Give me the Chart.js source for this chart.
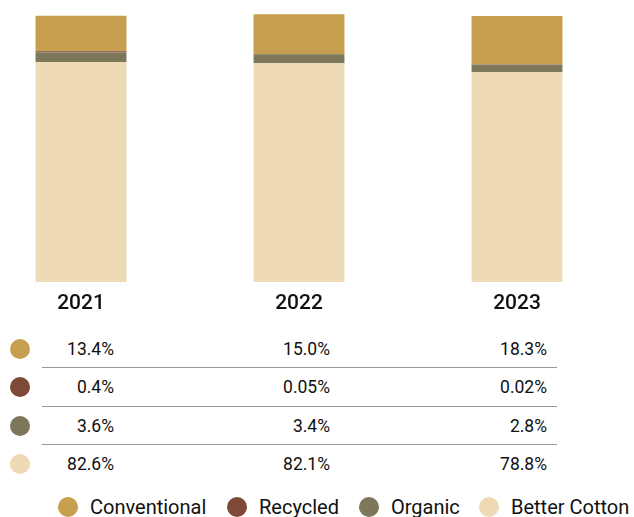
<!DOCTYPE html>
<html>
<head>
<meta charset="utf-8">
<script src="https://cdn.jsdelivr.net/npm/chart.js@4"></script>
<style>
  html, body { margin: 0; padding: 0; background: #fff; overflow: hidden; }
  body { width: 634px; height: 517px; position: relative; font-family: Roboto, "DejaVu Sans", sans-serif; color: #111; }
  #chartBox { position: absolute; left: -28px; top: 0; width: 654px; height: 320px; }
  .dot { position: absolute; width: 20px; height: 20px; border-radius: 50%; }
  .val { position: absolute; font-size: 17.5px; font-weight: 400; text-align: right; width: 80px; line-height: 20px; }
  .rule { position: absolute; left: 42px; width: 515px; height: 0; border-top: 1.5px solid #9a9a9a; }
  .leg { position: absolute; font-size: 20px; line-height: 22px; white-space: nowrap; }
</style>
</head>
<body>
<div id="chartBox"><canvas id="shareChart"></canvas></div>
<div id="table"></div>
<div id="legend"></div>
<script>
// Доли хлопка по годам, %
const years = ['2021', '2022', '2023'];
const conventional = [13.4, 15.0, 18.3];
const recycled = [0.4, 0.05, 0.02];
const organic = [3.6, 3.4, 2.8];
const betterCotton = [82.6, 82.1, 78.8];

const seriesNames = ['Conventional', 'Recycled', 'Organic', 'Better Cotton'];
const seriesColors = ['#c69f4f', '#7e4936', '#7d785a', '#efdab6'];

// Порядок в таблице и легенде: сверху вниз
const seriesValues = [conventional, recycled, organic, betterCotton];

function fmt(v) {
    return (v < 0.1 ? v.toFixed(2) : v.toFixed(1)) + '%';
}

// Столбцы: снизу Better Cotton, дальше вверх
function createChart() {
    const ctx = document.getElementById('shareChart').getContext('2d');
    const datasets = [];
    for (let i = seriesNames.length - 1; i >= 0; i--) {
        datasets.push({
            label: seriesNames[i],
            data: seriesValues[i],
            backgroundColor: seriesColors[i],
            borderWidth: 0,
            barPercentage: 0.417,
            categoryPercentage: 1
        });
    }
    new Chart(ctx, {
        type: 'bar',
        data: { labels: years, datasets: datasets },
        options: {
            responsive: true,
            maintainAspectRatio: false,
            animation: false,
            layout: { padding: { top: 13, left: 0, right: 0, bottom: 0 } },
            plugins: { legend: { display: false }, tooltip: { enabled: false } },
            scales: {
                x: {
                    stacked: true,
                    grid: { display: false, drawTicks: false },
                    border: { display: false },
                    ticks: {
                        color: '#111',
                        padding: 9,
                        font: { family: 'Roboto', size: 21, weight: '500' }
                    },
                    afterFit(scale) { scale.height = 38; }
                },
                y: {
                    stacked: true,
                    display: false,
                    min: 0,
                    max: 101
                }
            }
        }
    });
}

// Таблица значений под графиком
function buildTable() {
    const table = document.getElementById('table');
    const rowY = [349, 387, 426, 464];
    const colRight = [114, 330, 547];
    seriesValues.forEach((vals, r) => {
        const dot = document.createElement('div');
        dot.className = 'dot';
        dot.style.left = '10px';
        dot.style.top = (rowY[r] - 10) + 'px';
        dot.style.background = seriesColors[r];
        table.appendChild(dot);
        vals.forEach((v, c) => {
            const cell = document.createElement('div');
            cell.className = 'val';
            cell.style.left = (colRight[c] - 80) + 'px';
            cell.style.top = (rowY[r] - 10) + 'px';
            cell.textContent = fmt(v);
            table.appendChild(cell);
        });
        if (r < seriesValues.length - 1) {
            const line = document.createElement('div');
            line.className = 'rule';
            line.style.top = ((rowY[r] + rowY[r + 1]) / 2 - 1) + 'px';
            table.appendChild(line);
        }
    });
}

// Легенда внизу
function buildLegend() {
    const legend = document.getElementById('legend');
    const dotX = [68, 237, 369, 489];
    seriesNames.forEach((name, i) => {
        const dot = document.createElement('div');
        dot.className = 'dot';
        dot.style.left = (dotX[i] - 10) + 'px';
        dot.style.top = '497px';
        dot.style.background = seriesColors[i];
        legend.appendChild(dot);
        const txt = document.createElement('div');
        txt.className = 'leg';
        txt.style.left = (dotX[i] + 22) + 'px';
        txt.style.top = '496px';
        txt.textContent = name;
        legend.appendChild(txt);
    });
}

window.addEventListener('DOMContentLoaded', () => {
    createChart();
    buildTable();
    buildLegend();
});
</script>
</body>
</html>
